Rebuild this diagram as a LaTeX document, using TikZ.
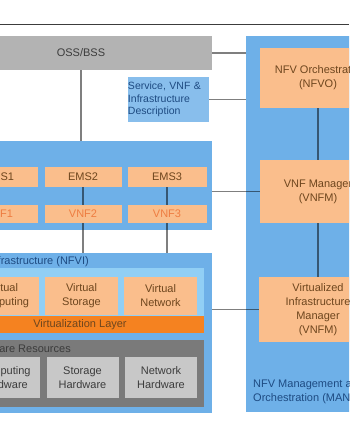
\documentclass[tikz,border=0pt]{standalone}
\usepackage{fontspec}
\setmainfont{Liberation Sans}
\usepackage{xcolor}
\definecolor{ColGray}{RGB}{179,179,179}
\definecolor{ColBlue}{RGB}{110,176,232}
\definecolor{ColDesc}{RGB}{136,190,236}
\definecolor{ColPanel}{RGB}{145,207,245}
\definecolor{ColOrange}{RGB}{250,190,140}
\definecolor{ColLayer}{RGB}{245,130,32}
\definecolor{ColHW}{RGB}{122,122,122}
\definecolor{ColHWBox}{RGB}{200,200,200}
\definecolor{ColText}{RGB}{60,60,60}
\definecolor{ColBlueText}{RGB}{30,75,130}
\definecolor{ColBrown}{RGB}{110,70,30}
\definecolor{ColVNF}{RGB}{238,125,65}
\usetikzlibrary{calc}
\tikzstyle{Box}=[inner sep=0pt,align=center,font=\fontsize{11}{14}\selectfont]
\tikzstyle{Panel}=[Box,fill=ColBlue]
\tikzstyle{Part}=[Box,fill=ColOrange,text=ColBrown]
\tikzstyle{HWBox}=[Box,fill=ColHWBox,text=ColText,minimum width=72pt,
minimum height=41pt]
\tikzstyle{Caption}=[Box,text=ColBlueText,align=left]
\tikzstyle{Edge}=[draw=black,opacity=.5,line width=1.2pt]
\begin{document}
\begin{tikzpicture}[x=1pt,y=-1pt]
    \useasboundingbox(0,0)rectangle(349,424);
    \clip(0,0)rectangle(349,424);
    \draw[ColText,line width=1pt](0,24)--(349,24);
    % left stack
    \node[Box,fill=ColGray,text=ColText,minimum width=262pt,
        minimum height=34pt](oss)at(81,53){OSS/BSS};
    \node[Box,fill=ColDesc,text=ColBlueText,align=left,text width=81pt,
        minimum height=45pt,font=\fontsize{10.5}{12.5}\selectfont]
        (desc)at(168.5,99.5){Service, VNF \&\\Infrastructure\\Description};
    \node[Panel,minimum width=262pt,minimum height=89pt](vnfs)at(81,185.5){};
    \node[Part,minimum width=77pt,minimum height=20pt](ems1)at(-1,177){EMS1};
    \node[Part,minimum width=77pt,minimum height=20pt](ems2)at(83,177){EMS2};
    \node[Part,minimum width=79pt,minimum height=20pt](ems3)at(167,177){EMS3};
    \node[Part,text=ColVNF,minimum width=77pt,minimum height=18pt]
        (vnf1)at(-1,214){VNF1};
    \node[Part,text=ColVNF,minimum width=77pt,minimum height=18pt]
        (vnf2)at(83,214){VNF2};
    \node[Part,text=ColVNF,minimum width=79pt,minimum height=18pt]
        (vnf3)at(167,214){VNF3};
    % NFVI
    \node[Panel,minimum width=262pt,minimum height=160pt](nfvi)at(81,333){};
    \node[Caption,anchor=east](nfvil)at(89,262)
        {Network Functions Virtualization Infrastructure (NFVI)};
    \node[Box,fill=ColPanel,minimum width=248pt,minimum height=48pt]
        (virt)at(80,292){};
    \node[Part,minimum width=73pt,minimum height=38pt](vc)at(2.5,296)
        {Virtual\\Computing};
    \node[Part,minimum width=73pt,minimum height=38pt](vs)at(81.5,296)
        {Virtual\\Storage};
    \node[Part,minimum width=73pt,minimum height=38pt](vn)at(160.5,296)
        {Virtual\\Network};
    \node[Box,fill=ColLayer,text=ColBrown,minimum width=248pt,
        minimum height=17pt](layer)at(80,324.5){Virtualization Layer};
    \node[Box,fill=ColHW,minimum width=248pt,minimum height=67pt]
        (hw)at(80,373.5){};
    \node[Box,text=ColText,anchor=east](hwl)at(71,349){Hardware Resources};
    \node[HWBox](hc)at(4,377.5){Computing\\Hardware};
    \node[HWBox](hs)at(82.5,377.5){Storage\\Hardware};
    \node[HWBox](hn)at(161,377.5){Network\\Hardware};
    % MANO
    \node[Panel,minimum width=154pt,minimum height=376pt](mano)at(323,224){};
    \node[Part,minimum width=116pt,minimum height=60pt](nfvo)at(318,78)
        {NFV Orchestrator\\(NFVO)};
    \node[Part,minimum width=116pt,minimum height=63pt](vnfm)at(318,191.5)
        {VNF Manager\\(VNFM)};
    \node[Part,minimum width=118pt,minimum height=65pt](vim)at(318,309.5)
        {Virtualized\\Infrastructure\\Manager\\(VNFM)};
    \node[Caption,anchor=west](manol)at(253,392)
        {NFV Management and\\Orchestration (MANO)};
    % links
    \draw[Edge](oss)--(vnfs);
    \draw[Edge](ems1)--(vnf1);
    \draw[Edge](ems2)--(vnf2);
    \draw[Edge](ems3)--(vnf3);
    \draw[Edge](vnf1.south)--(vnf1.south|-nfvi.north);
    \draw[Edge](vnf2.south)--(vnf2.south|-nfvi.north);
    \draw[Edge](vnf3.south)--(vnf3.south|-nfvi.north);
    \draw[Edge](oss.east)--(oss.east-|mano.west);
    \draw[Edge](desc.east)--(desc.east-|mano.west);
    \draw[Edge](vnfm.west)--(vnfm.west-|vnfs.east);
    \draw[Edge](vim.west)--(vim.west-|nfvi.east);
    \draw[Edge](nfvo)--(vnfm);
    \draw[Edge](vnfm)--(vim);
\end{tikzpicture}
\end{document}
